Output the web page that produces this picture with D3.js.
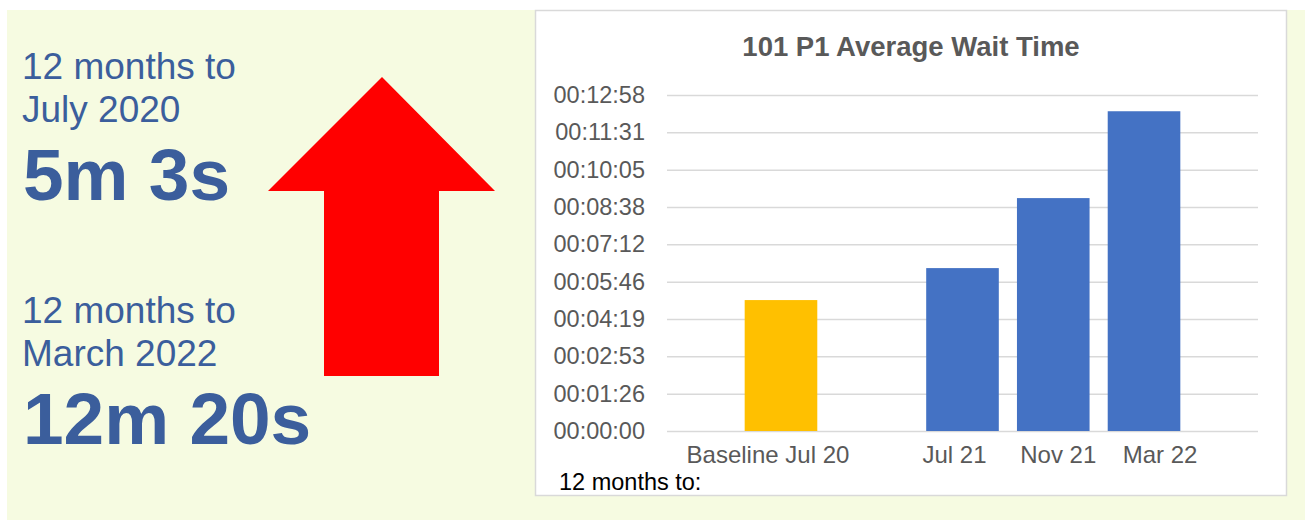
<!DOCTYPE html>
<html>
<head>
<meta charset="utf-8">
<script src="https://cdn.jsdelivr.net/npm/d3@7"></script>
<style>
    body { margin: 0; background: #ffffff; }
    text { font-family: "Liberation Sans", Arial, sans-serif; }
    .big-label { fill: #3b5e9c; font-size: 37px; }
    .big-value { fill: #3b5e9c; font-size: 73px; font-weight: bold; }
    .chart-title { fill: #595959; font-size: 27.5px; font-weight: bold; }
    .axis text { fill: #595959; font-size: 23.5px; }
    .x-axis text { font-size: 24px; }
    .axis .tick line { stroke: #d9d9d9; stroke-width: 1.5; }
</style>
</head>
<body>
<div id="svg1"></div>
<script>
// chart data
const categories = ["Baseline Jul 20", " ", "Jul 21", "Nov 21", "Mar 22"];
const waitSeconds = [303, null, 377, 539, 740];
const barColors = ["#ffc000", null, "#4472c4", "#4472c4", "#4472c4"];
const tickSeconds = [0, 86.4, 172.8, 259.2, 345.6, 432, 518.4, 604.8, 691.2, 777.6];

// summary text
const summaryLines = [
    ["12 months to", "July 2020", "5m 3s"],
    ["12 months to", "March 2022", "12m 20s"]
];

function formatHMS(s) {
    const total = Math.round(s);
    const h = Math.floor(total / 3600);
    const m = Math.floor((total % 3600) / 60);
    const sec = total % 60;
    const pad = function (v) { return String(v).padStart(2, "0"); };
    return `${pad(h)}:${pad(m)}:${pad(sec)}`;
}

function renderChart() {
    const width = 1310;
    const height = 526;

    const svg = d3.select("#svg1").append("svg")
        .attr("width", width)
        .attr("height", height);

    // background panel
    svg.append("rect")
        .attr("x", 7).attr("y", 10)
        .attr("width", 1298).attr("height", 510)
        .attr("fill", "#f6fbe1");

    // left text blocks
    const blockTop = [79, 323];
    summaryLines.forEach(function (lines, i) {
        svg.append("text").attr("class", "big-label")
            .attr("x", 22).attr("y", blockTop[i]).text(lines[0]);
        svg.append("text").attr("class", "big-label")
            .attr("x", 22).attr("y", blockTop[i] + 43).text(lines[1]);
        svg.append("text").attr("class", "big-value")
            .attr("x", 23).attr("y", blockTop[i] + 121).text(lines[2]);
    });

    // red arrow
    svg.append("polygon")
        .attr("points", [[382, 77], [495, 191], [439, 191], [439, 376], [324, 376], [324, 191], [268, 191]].join(" "))
        .attr("fill", "#ff0000");

    // chart box
    svg.append("rect")
        .attr("x", 535.5).attr("y", 10.5)
        .attr("width", 751).attr("height", 485)
        .attr("fill", "#ffffff")
        .attr("stroke", "#d9d9d9")
        .attr("stroke-width", 1.5);

    svg.append("text")
        .attr("class", "chart-title")
        .attr("x", 911).attr("y", 56)
        .attr("text-anchor", "middle")
        .text("101 P1 Average Wait Time");

    const plotLeft = 667;
    const plotRight = 1258;

    // y-axis with gridlines
    const yScale = d3.scaleLinear()
        .domain([0, tickSeconds[tickSeconds.length - 1]])
        .range([431, 95]);
    const yAxis = svg.append("g")
        .attr("class", "axis")
        .attr("transform", `translate(${plotLeft}, 0)`)
        .call(d3.axisLeft(yScale)
            .tickValues(tickSeconds)
            .tickFormat(formatHMS)
            .tickSizeInner(-(plotRight - plotLeft))
            .tickSizeOuter(0)
            .tickPadding(22));
    yAxis.select(".domain").remove();

    // x-axis
    const xScale = d3.scaleBand()
        .domain(categories)
        .range([735.6, 1189.4])
        .paddingInner(0.2)
        .paddingOuter(0.1);
    const xAxis = svg.append("g")
        .attr("class", "axis x-axis")
        .attr("transform", `translate(0, ${yScale(0)})`)
        .call(d3.axisBottom(xScale).tickSize(0).tickPadding(15));
    xAxis.select(".domain").remove();

    // labels sit a little off the bar centres in the original
    const labelShift = [-13, 0, -8, 5, 16];
    xAxis.selectAll(".tick text")
        .attr("dx", function (d, i) { return labelShift[i]; });

    // bars
    const barData = categories.map(function (c, i) { return [c, waitSeconds[i], barColors[i]]; })
        .filter(function (d) { return d[1] !== null; });
    svg.selectAll(".bar")
        .data(barData)
        .join("rect")
        .attr("class", "bar")
        .attr("x", function (d) { return xScale(d[0]); })
        .attr("y", function (d) { return yScale(d[1]); })
        .attr("width", xScale.bandwidth())
        .attr("height", function (d) { return yScale(0) - yScale(d[1]); })
        .attr("fill", function (d) { return d[2]; });

    svg.append("text")
        .attr("x", 559).attr("y", 490)
        .attr("fill", "#000000")
        .style("font-size", "23.5px")
        .text("12 months to:");
}

renderChart();
</script>
</body>
</html>
